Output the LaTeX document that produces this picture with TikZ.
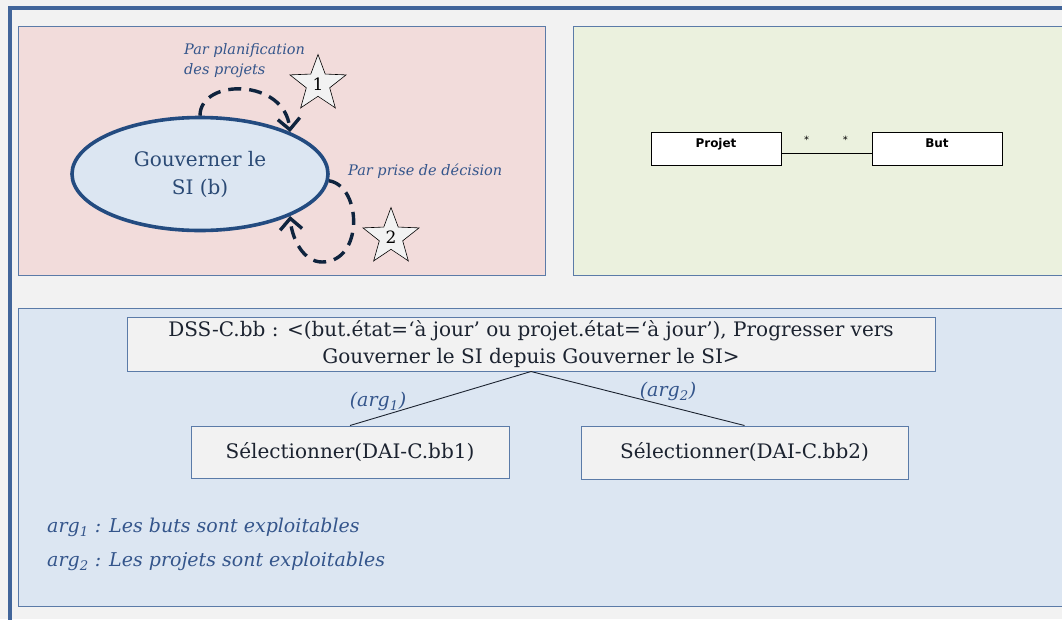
\documentclass[tikz,border=0pt]{standalone}
\usepackage{fontspec}
\setmainfont{DejaVu Serif}
\newfontfamily\umlsans{DejaVu Sans}
\usetikzlibrary{arrows.meta,shapes.geometric,positioning}

\definecolor{pagegray}{HTML}{F2F2F2}
\definecolor{framebl}{HTML}{41659A}
\definecolor{panelline}{HTML}{5B7BA8}
\definecolor{pinkbg}{HTML}{F2DCDB}
\definecolor{greenbg}{HTML}{EBF1DE}
\definecolor{bluebg}{HTML}{DCE6F2}
\definecolor{navyline}{HTML}{234B80}
\definecolor{navytext}{HTML}{2B4A75}
\definecolor{dashnavy}{HTML}{0F243E}
\definecolor{labelbl}{HTML}{34558B}
\definecolor{textdk}{HTML}{1C2330}

\begin{document}
\begin{tikzpicture}[x=1pt, y=-1pt,
    panel/.style={draw=panelline, line width=1pt},
    goal/.style={ellipse, draw=navyline, fill=bluebg, line width=3.6pt, minimum width=256, minimum height=113, inner sep=0pt, text=navytext, align=center, font=\fontsize{20}{28}\selectfont},
    stamp/.style={star, star points=5, star point ratio=2.4, draw=black, fill=pagegray, line width=0.6pt, minimum size=59, inner sep=0pt, font=\fontsize{17}{17}\selectfont},
    loopline/.style={draw=dashnavy, line width=3.4pt, dash pattern=on 13pt off 8pt, -{Straight Barb[length=11pt,width=22pt,line width=3.4pt]}},
    strat/.style={font=\itshape\fontsize{14.5}{20}\selectfont, text=labelbl, align=left, inner sep=0pt},
    umlclass/.style={draw=black, fill=white, line width=0.9pt, minimum width=130, minimum height=33, text height=9pt, text depth=12pt, font=\umlsans\bfseries\fontsize{12}{14}\selectfont},
    mult/.style={font=\umlsans\fontsize{10}{10}\selectfont, inner sep=0pt},
    dssbox/.style={draw=panelline, fill=pagegray, line width=1pt, text=textdk, align=center, font=\fontsize{20}{27}\selectfont},
    arglabel/.style={font=\itshape\fontsize{19}{24}\selectfont, text=labelbl, inner sep=0pt}]

    % Background and frame
    \clip (0,0) rectangle (1062,619);
    \fill[pagegray] (0,0) rectangle (1062,619);
    \draw[framebl, line width=4pt] (9.5,630) -- (9.5,7.5) -- (1070,7.5);

    % Panels
    \filldraw[panel, fill=pinkbg]  (18,26)  rectangle (545,275);
    \filldraw[panel, fill=greenbg] (573,26) rectangle (1080,275);
    \filldraw[panel, fill=bluebg]  (18,308) rectangle (1080,606);

    % Intentional map {gov, stars, loops}
    \node [goal]  (gov)   at (200,174) {Gouverner le\\SI (b)};
    \node [stamp] (star1) at (318,84)  {1};
    \node [stamp] (star2) at (391,237) {2};
    \node [strat, anchor=north west] (plan) at (184,43) {Par planification\\des projets};
    \node [strat, anchor=west] (prise) at (348,171) {Par prise de décision};

    \draw [loopline] (gov.north) .. controls (200,78) and (285,78) .. (gov.25);
    \draw [loopline] (gov.-3) .. controls (362,186) and (364,262) .. (322,262)
                              .. controls (304,262) and (292,240) .. (gov.-25);

    % Class diagram
    \node [umlclass] (projet) at (716,148.5) {Projet};
    \node [umlclass] (but)    at (937,148.5) {But};
    \draw [line width=0.9pt] ([yshift=-4.5pt]projet.east) -- ([yshift=-4.5pt]but.west)
        node [mult, pos=0.28, above=9pt] {*}
        node [mult, pos=0.71, above=9pt] {*};

    % Refinement
    \node [dssbox, minimum width=808, minimum height=54] (dss) at (531,344)
        {DSS-C.bb : <(but.état=`à jour' ou projet.état=`à jour'), Progresser vers\\Gouverner le SI depuis Gouverner le SI>};
    \node [dssbox, minimum width=318, minimum height=52] (sel1) at (350,452) {Sélectionner(DAI-C.bb1)};
    \node [dssbox, minimum width=327, minimum height=53] (sel2) at (744.5,452.5) {Sélectionner(DAI-C.bb2)};

    \draw [textdk, line width=0.9pt] (dss.south) -- (sel1.north);
    \draw [textdk, line width=0.9pt] (dss.south) -- (sel2.north);
    \node [arglabel] (arg1) at (378,401) {(arg\textsubscript{1})};
    \node [arglabel] (arg2) at (668,391) {(arg\textsubscript{2})};

    % Legend
    \node [arglabel, anchor=west] (leg1) at (47,527) {arg\textsubscript{1} : Les buts sont exploitables};
    \node [arglabel, anchor=west] (leg2) at (47,561) {arg\textsubscript{2} : Les projets sont exploitables};
\end{tikzpicture}
\end{document}
